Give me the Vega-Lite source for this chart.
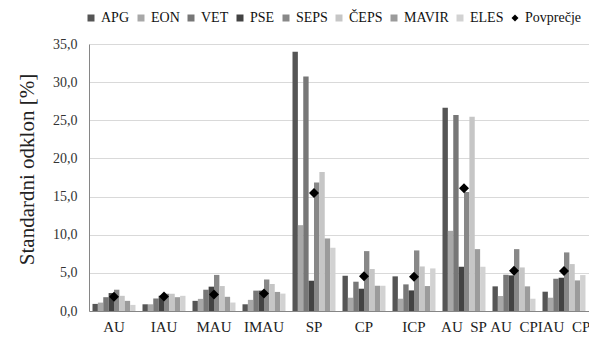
{
  "$schema": "https://vega.github.io/schema/vega-lite/v6.json",
  "autosize": "none",
  "width": 500,
  "height": 267,
  "padding": {"left": 89, "top": 44, "right": 0, "bottom": 27},
  "background": "white",
  "config": {"view": {"stroke": null}, "font": "Liberation Serif"},
  "data": {"values": [
    {"g": "AU", "s": "APG", "v": 0.93}, {"g": "AU", "s": "EON", "v": 1.1}, {"g": "AU", "s": "VET", "v": 1.81}, {"g": "AU", "s": "PSE", "v": 2.35}, {"g": "AU", "s": "SEPS", "v": 2.79}, {"g": "AU", "s": "ČEPS", "v": 1.99}, {"g": "AU", "s": "MAVIR", "v": 1.33}, {"g": "AU", "s": "ELES", "v": 0.8}, {"g": "AU", "s": "Povprečje", "v": 1.86},
    {"g": "IAU", "s": "APG", "v": 0.88}, {"g": "IAU", "s": "EON", "v": 0.88}, {"g": "IAU", "s": "VET", "v": 1.64}, {"g": "IAU", "s": "PSE", "v": 2.0}, {"g": "IAU", "s": "SEPS", "v": 2.26}, {"g": "IAU", "s": "ČEPS", "v": 2.26}, {"g": "IAU", "s": "MAVIR", "v": 1.81}, {"g": "IAU", "s": "ELES", "v": 1.99}, {"g": "IAU", "s": "Povprečje", "v": 1.9},
    {"g": "MAU", "s": "APG", "v": 1.33}, {"g": "MAU", "s": "EON", "v": 1.59}, {"g": "MAU", "s": "VET", "v": 2.79}, {"g": "MAU", "s": "PSE", "v": 3.19}, {"g": "MAU", "s": "SEPS", "v": 4.73}, {"g": "MAU", "s": "ČEPS", "v": 3.27}, {"g": "MAU", "s": "MAVIR", "v": 1.86}, {"g": "MAU", "s": "ELES", "v": 1.11}, {"g": "MAU", "s": "Povprečje", "v": 2.17},
    {"g": "IMAU", "s": "APG", "v": 0.88}, {"g": "IMAU", "s": "EON", "v": 1.46}, {"g": "IMAU", "s": "VET", "v": 2.67}, {"g": "IMAU", "s": "PSE", "v": 2.67}, {"g": "IMAU", "s": "SEPS", "v": 4.13}, {"g": "IMAU", "s": "ČEPS", "v": 3.54}, {"g": "IMAU", "s": "MAVIR", "v": 2.5}, {"g": "IMAU", "s": "ELES", "v": 2.28}, {"g": "IMAU", "s": "Povprečje", "v": 2.3},
    {"g": "SP", "s": "APG", "v": 34.0}, {"g": "SP", "s": "EON", "v": 11.25}, {"g": "SP", "s": "VET", "v": 30.75}, {"g": "SP", "s": "PSE", "v": 3.97}, {"g": "SP", "s": "SEPS", "v": 16.83}, {"g": "SP", "s": "ČEPS", "v": 18.23}, {"g": "SP", "s": "MAVIR", "v": 9.51}, {"g": "SP", "s": "ELES", "v": 8.29}, {"g": "SP", "s": "Povprečje", "v": 15.48},
    {"g": "CP", "s": "APG", "v": 4.62}, {"g": "CP", "s": "EON", "v": 1.74}, {"g": "CP", "s": "VET", "v": 3.84}, {"g": "CP", "s": "PSE", "v": 2.92}, {"g": "CP", "s": "SEPS", "v": 7.85}, {"g": "CP", "s": "ČEPS", "v": 5.5}, {"g": "CP", "s": "MAVIR", "v": 3.31}, {"g": "CP", "s": "ELES", "v": 3.31}, {"g": "CP", "s": "Povprečje", "v": 4.54},
    {"g": "ICP", "s": "APG", "v": 4.54}, {"g": "ICP", "s": "EON", "v": 1.61}, {"g": "ICP", "s": "VET", "v": 3.49}, {"g": "ICP", "s": "PSE", "v": 2.7}, {"g": "ICP", "s": "SEPS", "v": 7.94}, {"g": "ICP", "s": "ČEPS", "v": 5.84}, {"g": "ICP", "s": "MAVIR", "v": 3.27}, {"g": "ICP", "s": "ELES", "v": 5.58}, {"g": "ICP", "s": "Povprečje", "v": 4.49},
    {"g": "AU\u00a0\u00a0SP", "s": "APG", "v": 26.65}, {"g": "AU\u00a0\u00a0SP", "s": "EON", "v": 10.51}, {"g": "AU\u00a0\u00a0SP", "s": "VET", "v": 25.69}, {"g": "AU\u00a0\u00a0SP", "s": "PSE", "v": 5.8}, {"g": "AU\u00a0\u00a0SP", "s": "SEPS", "v": 15.6}, {"g": "AU\u00a0\u00a0SP", "s": "ČEPS", "v": 25.47}, {"g": "AU\u00a0\u00a0SP", "s": "MAVIR", "v": 8.11}, {"g": "AU\u00a0\u00a0SP", "s": "ELES", "v": 5.8}, {"g": "AU\u00a0\u00a0SP", "s": "Povprečje", "v": 16.1},
    {"g": "AU\u00a0\u00a0CP", "s": "APG", "v": 3.23}, {"g": "AU\u00a0\u00a0CP", "s": "EON", "v": 1.96}, {"g": "AU\u00a0\u00a0CP", "s": "VET", "v": 4.75}, {"g": "AU\u00a0\u00a0CP", "s": "PSE", "v": 4.67}, {"g": "AU\u00a0\u00a0CP", "s": "SEPS", "v": 8.11}, {"g": "AU\u00a0\u00a0CP", "s": "ČEPS", "v": 5.71}, {"g": "AU\u00a0\u00a0CP", "s": "MAVIR", "v": 3.23}, {"g": "AU\u00a0\u00a0CP", "s": "ELES", "v": 1.61}, {"g": "AU\u00a0\u00a0CP", "s": "Povprečje", "v": 5.28},
    {"g": "IAU\u00a0\u00a0CP", "s": "APG", "v": 2.53}, {"g": "IAU\u00a0\u00a0CP", "s": "EON", "v": 1.74}, {"g": "IAU\u00a0\u00a0CP", "s": "VET", "v": 4.23}, {"g": "IAU\u00a0\u00a0CP", "s": "PSE", "v": 4.36}, {"g": "IAU\u00a0\u00a0CP", "s": "SEPS", "v": 7.68}, {"g": "IAU\u00a0\u00a0CP", "s": "ČEPS", "v": 6.15}, {"g": "IAU\u00a0\u00a0CP", "s": "MAVIR", "v": 4.01}, {"g": "IAU\u00a0\u00a0CP", "s": "ELES", "v": 4.71}, {"g": "IAU\u00a0\u00a0CP", "s": "Povprečje", "v": 5.23}
  ]},
  "encoding": {
    "x": {
      "field": "g", "type": "nominal", "sort": null,
      "scale": {"paddingInner": 0.14, "paddingOuter": 0.07},
      "axis": {"title": null, "labelAngle": 0, "ticks": false, "domainColor": "#868686", "labelFontSize": 15, "labelPadding": 8, "labelColor": "#222222"}
    },
    "y": {
      "field": "v", "type": "quantitative",
      "scale": {"domain": [0, 35], "nice": false},
      "axis": {
        "title": "Standardni odklon [%]", "values": [0, 5, 10, 15, 20, 25, 30, 35],
        "labelExpr": "replace(format(datum.value, '.1f'), '.', ',')",
        "grid": true, "gridColor": "#d9d9d9", "domainColor": "#868686", "ticks": false,
        "labelPadding": 12, "labelFontSize": 14, "labelColor": "#333333",
        "titleFontSize": 21, "titleFontWeight": "normal", "titleColor": "#222222",
        "titleX": -52, "titleY": 125
      }
    }
  },
  "layer": [
    {
      "transform": [{"filter": "datum.s !== 'Povprečje'"}],
      "mark": {"type": "bar"},
      "encoding": {
        "xOffset": {"field": "s", "type": "nominal", "sort": null, "scale": {"domain": ["APG", "EON", "VET", "PSE", "SEPS", "ČEPS", "MAVIR", "ELES"], "paddingInner": 0, "paddingOuter": 0}},
        "color": {
          "field": "s", "type": "nominal",
          "scale": {"domain": ["APG", "EON", "VET", "PSE", "SEPS", "ČEPS", "MAVIR", "ELES", "Povprečje"], "range": ["#555555", "#a8a8a8", "#777777", "#434343", "#888888", "#c6c6c6", "#9b9b9b", "#d2d2d2", "#000000"]},
          "legend": {
            "orient": "none", "legendX": -5, "legendY": -33, "direction": "horizontal", "title": null,
            "gridAlign": "none",
            "symbolType": "square", "symbolSize": 49, "labelFontSize": 14, "labelOffset": 3, "columnPadding": 4,
            "labelColor": "#111111", "symbolStrokeWidth": 0,
            "encode": {"symbols": {"update": {"shape": {"signal": "datum.value === 'Povprečje' ? 'diamond' : 'square'"}}}}
          }
        }
      }
    },
    {
      "transform": [{"filter": "datum.s === 'Povprečje'"}],
      "mark": {"type": "point", "shape": "diamond", "filled": true, "color": "#000000", "size": 100, "opacity": 1},
      "encoding": {}
    }
  ]
}
